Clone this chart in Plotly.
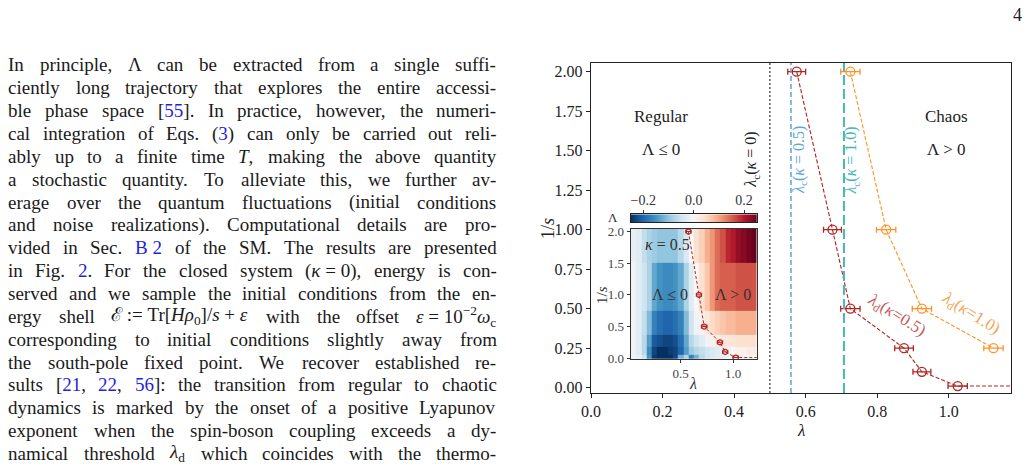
import re
import numpy as np
import plotly.graph_objects as go

W, H = 1029, 472
FONT = "Liberation Serif"

# ---------------- data ----------------
# lambda_d(kappa=0.5) vs 1/s  (last point lies beyond the visible x range)
inv_s_k05 = [2.0, 1.0, 0.5, 0.25, 0.1, 0.01, 0.01]
lam_d_k05 = [0.575, 0.675, 0.725, 0.875, 0.925, 1.025, 1.30]
lam_d_k05_err = [0.025, 0.025, 0.027, 0.026, 0.025, 0.027, 0.025]
# lambda_d(kappa=1.0) vs 1/s
inv_s_k10 = [2.0, 1.0, 0.5, 0.25]
lam_d_k10 = [0.725, 0.825, 0.925, 1.125]
lam_d_k10_err = [0.027, 0.027, 0.027, 0.027]
# critical couplings
lam_c = [0.5, 0.559, 0.707]
lam_c_kappa = ["0", "0.5", "1.0"]

# inset map of Lambda(lambda, 1/s) for kappa = 0.5
map_lam = [0.05, 0.10, 0.15, 0.20, 0.25, 0.30, 0.35, 0.40, 0.45, 0.50, 0.55, 0.60,
           0.65, 0.70, 0.75, 0.80, 0.85, 0.90, 0.95, 1.00, 1.05, 1.10, 1.15, 1.20]
map_inv_s = [0.01, 0.1, 0.25, 0.5, 1.0, 2.0]
row_s001 = [-0.01, -0.02, -0.05, -0.15, -0.24, -0.25, -0.25, -0.25, -0.23, -0.12, -0.08, -0.17,
            -0.12, -0.07, -0.05, -0.04, -0.03, -0.02, -0.01, -0.01, 0.00, 0.00, 0.00, 0.00]
row_s01 = [-0.01, -0.03, -0.07, -0.16, -0.23, -0.25, -0.25, -0.24, -0.23, -0.20, -0.14, -0.09,
           -0.07, -0.06, -0.05, -0.04, -0.03, -0.02, -0.01, 0.00, 0.01, 0.01, 0.02, 0.02]
row_s025 = [-0.01, -0.03, -0.07, -0.14, -0.21, -0.22, -0.23, -0.23, -0.22, -0.19, -0.13, -0.07,
            -0.05, -0.03, -0.01, 0.01, 0.02, 0.03, 0.03, 0.03, 0.04, 0.04, 0.04, 0.04]
row_s05 = [-0.01, -0.03, -0.06, -0.11, -0.17, -0.19, -0.20, -0.20, -0.19, -0.17, -0.11, -0.05,
           -0.01, 0.01, 0.03, 0.05, 0.06, 0.07, 0.08, 0.08, 0.09, 0.09, 0.09, 0.09]
row_s1 = [-0.01, -0.03, -0.05, -0.08, -0.13, -0.15, -0.16, -0.16, -0.15, -0.13, -0.08, -0.03,
          0.00, 0.04, 0.07, 0.11, 0.14, 0.15, 0.15, 0.15, 0.16, 0.16, 0.16, 0.16]
row_s2 = [-0.02, -0.03, -0.06, -0.08, -0.09, -0.10, -0.10, -0.10, -0.10, -0.07, -0.04, 0.00,
          0.04, 0.06, 0.09, 0.11, 0.14, 0.16, 0.19, 0.20, 0.22, 0.23, 0.24, 0.25]
map_Lambda = [row_s001, row_s01, row_s025, row_s05, row_s1, row_s2]
Lambda_min, Lambda_max = -0.25, 0.25

main_xticks = [0.0, 0.2, 0.4, 0.6, 0.8, 1.0]
main_yticks = [0.0, 0.25, 0.5, 0.75, 1.0, 1.25, 1.5, 1.75, 2.0]
inset_xticks = [0.5, 1.0]
inset_yticks = [0.0, 0.5, 1.0, 1.5, 2.0]
cbar_ticks = [-0.2, 0.0, 0.2]

# ---------------- styles ----------------
RED = "#b22222"
RED_LBL = "#c85a58"
ORANGE = "#ff9224"
ORANGE_LBL = "#f6a353"
BLUE_V = "#5ba6d8"
TEAL_V = "#45b7b7"
GRAY_V = "#444444"
vline_colors = [GRAY_V, BLUE_V, TEAL_V]
vline_dash = ["2px,2px", "5px,3px", "10px,4px"]
vline_width = [1.3, 1.5, 2.0]
AX = "#222222"

RDBU_R = ["#053061", "#2166ac", "#4393c3", "#92c5de", "#d1e5f0", "#f7f7f7",
          "#fddbc7", "#f4a582", "#d6604d", "#b2182b", "#67001f"]
colorscale = [[i / 10, c] for i, c in enumerate(RDBU_R)]


def px(x):
    return x / W


def py(y):
    return 1 - y / H


fig = go.Figure()

# main series
fig.add_trace(go.Scatter(
    x=lam_d_k05, y=inv_s_k05, mode="lines+markers",
    line=dict(color=RED, width=1.1, dash="4px,2px"),
    marker=dict(symbol="circle-open", size=9, color=RED, line=dict(width=1.3, color=RED)),
    error_x=dict(type="data", array=lam_d_k05_err, color=RED, thickness=1.3, width=3),
    xaxis="x", yaxis="y", showlegend=False))
fig.add_trace(go.Scatter(
    x=lam_d_k10, y=inv_s_k10, mode="lines+markers",
    line=dict(color=ORANGE, width=1.1, dash="4px,2px"),
    marker=dict(symbol="circle-open", size=9, color=ORANGE, line=dict(width=1.3, color=ORANGE)),
    error_x=dict(type="data", array=lam_d_k10_err, color=ORANGE, thickness=1.3, width=3),
    xaxis="x", yaxis="y", showlegend=False))

# inset heatmap
fig.add_trace(go.Heatmap(
    x=map_lam, y=map_inv_s, z=map_Lambda, colorscale=colorscale,
    zmin=Lambda_min, zmax=Lambda_max, showscale=False,
    xaxis="x2", yaxis="y2", hoverinfo="skip"))
fig.add_trace(go.Scatter(
    x=lam_d_k05, y=inv_s_k05, mode="lines+markers",
    line=dict(color=RED, width=1.0, dash="3px,2px"),
    marker=dict(symbol="circle-open", size=5, color=RED, line=dict(width=1.2, color=RED)),
    error_x=dict(type="data", array=lam_d_k05_err, color=RED, thickness=1.0, width=2),
    xaxis="x2", yaxis="y2", showlegend=False))

# colorbar strip (gradient legend for the inset)
cb_vals = np.linspace(Lambda_min, Lambda_max, 201)
fig.add_trace(go.Heatmap(
    x=cb_vals, y=[0], z=[cb_vals], colorscale=colorscale,
    zmin=Lambda_min, zmax=Lambda_max, showscale=False,
    xaxis="x3", yaxis="y3", hoverinfo="skip"))

# vertical critical lines
shapes = []
for xv, col, dsh, wd in zip(lam_c, vline_colors, vline_dash, vline_width):
    shapes.append(dict(type="line", xref="x", yref="y domain", x0=xv, x1=xv, y0=0, y1=1,
                       line=dict(color=col, width=wd, dash=dsh), layer="above"))

tickfont = dict(family=FONT, size=16, color=AX)
inset_tickfont = dict(family=FONT, size=13, color="#444")

fig.update_layout(
    width=W, height=H, margin=dict(l=0, r=0, t=0, b=0, pad=0, autoexpand=False), autosize=False,
    paper_bgcolor="white", plot_bgcolor="white", showlegend=False,
    shapes=shapes,
    xaxis=dict(domain=[px(591), px(1011)], range=[0, 1.174], anchor="y",
               tickvals=main_xticks, tickformat=".1f", ticks="outside", ticklen=4,
               tickcolor=AX, showline=True, linecolor=AX, linewidth=1.4, mirror=True,
               showgrid=False, zeroline=False, tickfont=tickfont),
    yaxis=dict(domain=[py(393), py(63)], range=[-0.034, 2.055], anchor="x",
               tickvals=main_yticks, tickformat=".2f", ticks="outside", ticklen=4,
               tickcolor=AX, showline=True, linecolor=AX, linewidth=1.4, mirror=True,
               showgrid=False, zeroline=False, tickfont=tickfont),
    xaxis2=dict(domain=[px(630.7), px(756.7)], range=[0.025, 1.225], anchor="y2",
                tickvals=inset_xticks, tickformat=".1f", ticks="outside", ticklen=3,
                tickcolor="#333", showline=True, linecolor="#333", linewidth=1.2, mirror=True,
                showgrid=False, zeroline=False, tickfont=inset_tickfont),
    yaxis2=dict(domain=[py(358.7), py(229)], range=[-0.008, 2.04], anchor="x2",
                tickvals=inset_yticks, tickformat=".1f", ticks="outside", ticklen=3,
                tickcolor="#333", showline=True, linecolor="#333", linewidth=1.2, mirror=True,
                showgrid=False, zeroline=False, tickfont=inset_tickfont),
    xaxis3=dict(domain=[px(630.7), px(756.7)], range=[Lambda_min, Lambda_max], anchor="y3",
                side="top", tickvals=cbar_ticks, tickformat=".1f", ticks="outside", ticklen=3,
                tickcolor="#333", showline=True, linecolor="#222", linewidth=1.0, mirror=True,
                showgrid=False, zeroline=False,
                tickfont=dict(family=FONT, size=14, color="#333")),
    yaxis3=dict(domain=[py(222), py(214.3)], range=[-0.5, 0.5], anchor="x3",
                showticklabels=False, ticks="", showline=True, linecolor="#222",
                linewidth=1.0, mirror=True, showgrid=False, zeroline=False),
)

ann = []


def add_txt(text, x, y, size, color="#222", xref="paper", yref="paper", angle=0,
            xanchor="center", yanchor="middle"):
    ann.append(dict(text=text, x=x, y=y, xref=xref, yref=yref, showarrow=False,
                    textangle=angle, xanchor=xanchor, yanchor=yanchor, borderpad=0,
                    font=dict(family=FONT, size=size, color=color)))


# main-panel labels
add_txt("Regular", 0.197, 1.715, 17, xref="x", yref="y")
add_txt("Λ ≤ 0", 0.197, 1.51, 17, xref="x", yref="y")
add_txt("Chaos", 0.993, 1.715, 17, xref="x", yref="y")
add_txt("Λ > 0", 0.993, 1.51, 17, xref="x", yref="y")
lbl_dx = [-0.051, 0.022, 0.021]
for xv, k, col, dx in zip(lam_c, lam_c_kappa, vline_colors, lbl_dx):
    add_txt(f"<i>λ</i><sub>c</sub>(<i>κ</i> = {k})", xv + dx, 1.44, 16,
            color=("#222" if col == GRAY_V else col), xref="x", yref="y", angle=-90)
add_txt("<i>λ</i><sub>d</sub>(<i>κ</i>=0.5)", 0.854, 0.454, 17, color=RED_LBL,
        xref="x", yref="y", angle=32)
add_txt("<i>λ</i><sub>d</sub>(<i>κ</i>=1.0)", 1.061, 0.466, 17, color=ORANGE_LBL,
        xref="x", yref="y", angle=32)
add_txt("<i>λ</i>", px(801), py(419.5), 17, yanchor="top")
add_txt("1/<i>s</i>", px(548), py(229), 18, angle=-90)

# inset labels
add_txt("<i>κ</i> = 0.5", 0.38, 1.80, 16, color="#333", xref="x2", yref="y2")
add_txt("Λ ≤ 0", 0.40, 1.01, 16, color="#333", xref="x2", yref="y2")
add_txt("Λ > 0", 1.00, 1.01, 16, color="#333", xref="x2", yref="y2")
add_txt("<i>λ</i>", px(693), py(383), 16, color="#333")
add_txt("1/<i>s</i>", px(602), py(295), 15, color="#333", angle=-90)
add_txt("Λ", px(613), py(217), 13, color="#333")

# page number
add_txt("4", px(1017), py(15), 18)

# ---------------- body text (justified) ----------------
LINK = "#1f1fe0"
NB = "\u00a0"
body_lines = [
    "In principle, Λ can be extracted from a single suffi-",
    "ciently long trajectory that explores the entire accessi-",
    "ble phase space [{55}]. In practice, however, the numeri-",
    "cal integration of Eqs. ({3}) can only be carried out reli-",
    "ably up to a finite time <i>T</i>, making the above quantity",
    "a stochastic quantity. To alleviate this, we further av-",
    "erage over the quantum fluctuations (initial conditions",
    "and noise realizations). Computational details are pro-",
    "vided in Sec. {B" + NB + "2} of the SM. The results are presented",
    "in Fig. {2}. For the closed system (<i>κ</i>" + NB + "=" + NB + "0), energy is con-",
    "served and we sample the initial conditions from the en-",
    "ergy shell ℰ" + NB + ":=" + NB + "Tr[<i>Hρ</i><sub>0</sub>]/<i>s</i>" + NB + "+" + NB
    + "<i>ε</i> with the offset <i>ε</i>" + NB + "=" + NB + "10<sup>−2</sup><i>ω</i><sub>c</sub>",
    "corresponding to initial conditions slightly away from",
    "the south-pole fixed point. We recover established re-",
    "sults [{21}, {22}, {56}]: the transition from regular to chaotic",
    "dynamics is marked by the onset of a positive Lyapunov",
    "exponent when the spin-boson coupling exceeds a dy-",
    "namical threshold <i>λ</i><sub>d</sub> which coincides with the thermo-",
]

TW = {' ': 250, NB: 250, ',': 250, '.': 250, '-': 333, '(': 333, ')': 333, '[': 333, ']': 333,
      ':': 278, ';': 278, '/': 278, '=': 564, '+': 564, '−': 564,
      'a': 444, 'b': 500, 'c': 444, 'd': 500, 'e': 444, 'f': 333, 'g': 500, 'h': 500,
      'i': 278, 'j': 278, 'k': 500, 'l': 278, 'm': 778, 'n': 500, 'o': 500, 'p': 500,
      'q': 500, 'r': 333, 's': 389, 't': 278, 'u': 500, 'v': 500, 'w': 722, 'x': 500,
      'y': 500, 'z': 444,
      'A': 722, 'B': 667, 'C': 667, 'D': 722, 'E': 611, 'F': 556, 'G': 722, 'H': 722,
      'I': 333, 'J': 389, 'K': 722, 'L': 611, 'M': 889, 'N': 722, 'O': 722, 'P': 556,
      'Q': 722, 'R': 667, 'S': 556, 'T': 611, 'U': 722, 'V': 722, 'W': 944, 'X': 722,
      'Y': 722, 'Z': 611,
      'Λ': 722, 'λ': 500, 'κ': 500, 'ε': 444, 'ρ': 500, 'ω': 667, 'ℰ': 600, '≤': 549}
for d in "0123456789":
    TW[d] = 500

BODY_FS = 19
LEFT, RIGHT = 7.3, 495.5
Y0, DY = 67.0, 22.85


def word_markup(w):
    return re.sub(r"\{([^}]*)\}", lambda m: f"<span style='color:{LINK}'>{m.group(1)}</span>", w)


def word_width(w):
    total, scale = 0.0, 1.0
    for part in re.split(r"(<[^>]+>)", w.replace("{", "").replace("}", "")):
        if part.startswith("<"):
            if part in ("<sub>", "<sup>"):
                scale = 0.7
            elif part in ("</sub>", "</sup>"):
                scale = 1.0
            continue
        for ch in part:
            total += TW.get(ch, 550) * scale
    return total / 1000 * BODY_FS


for i, line in enumerate(body_lines):
    words = line.split(" ")
    widths = [word_width(w) for w in words]
    nat = sum(widths)
    space = 0.25 * BODY_FS
    gap = max(space, (RIGHT - LEFT - nat) / max(len(words) - 1, 1))
    xpos = LEFT
    yc = Y0 + DY * i
    for w, wd in zip(words, widths):
        add_txt(word_markup(w), px(xpos), py(yc - 2), BODY_FS, color="#1a1a1a",
                xanchor="left")
        xpos += wd + gap

fig.update_layout(annotations=ann)
fig.write_html("out.html")
